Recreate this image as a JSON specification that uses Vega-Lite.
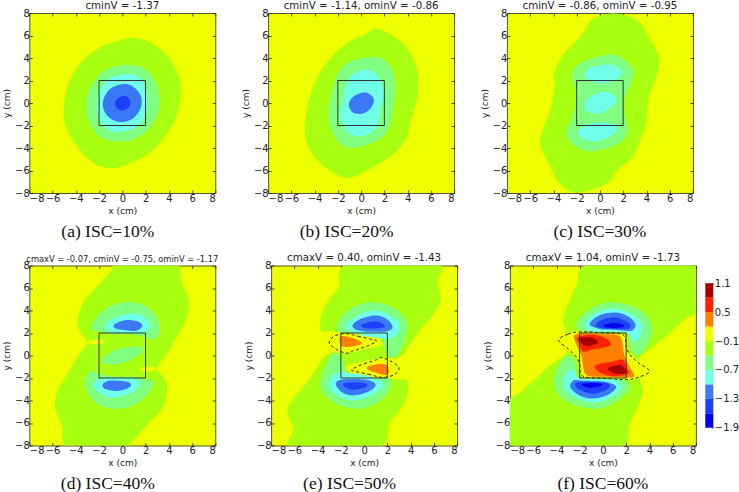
{"$schema":"https://vega.github.io/schema/vega-lite/v6.json","background":"white","padding":{"left":1.3,"top":0,"right":0,"bottom":0},"spacing":11.5,
"config":{"view":{"fill":"#eeff00","stroke":"#555530","strokeWidth":1},"font":"DejaVu Sans","axis":{"grid":false,"domain":false,"tickSize":-3,"tickColor":"#222","tickWidth":0.8,"labelFontSize":10,"labelColor":"#222","labelPadding":3,"titleFontSize":9,"titleFontWeight":"normal","titleColor":"#222","titlePadding":3,"format":"d","labelExpr":"replace(datum.label,'-','−')","labelFont":"DejaVu Sans","zindex":1},"title":{"fontSize":10.3,"fontWeight":"normal","color":"#222","offset":-3,"font":"DejaVu Sans"}},
"datasets":{
"a":[
{"g":1,"b":"-0.25","x":1,"y":5.8},{"g":1,"b":"-0.25","x":2.6,"y":5.3},{"g":1,"b":"-0.25","x":4,"y":4},{"g":1,"b":"-0.25","x":4.85,"y":2.4},{"g":1,"b":"-0.25","x":5.05,"y":1},{"g":1,"b":"-0.25","x":4.8,"y":-0.7},{"g":1,"b":"-0.25","x":4,"y":-2.5},{"g":1,"b":"-0.25","x":2.5,"y":-4.3},{"g":1,"b":"-0.25","x":1,"y":-5.2},{"g":1,"b":"-0.25","x":-0.8,"y":-5.8},{"g":1,"b":"-0.25","x":-2.5,"y":-5.3},{"g":1,"b":"-0.25","x":-4,"y":-3.7},{"g":1,"b":"-0.25","x":-4.95,"y":-1.8},{"g":1,"b":"-0.25","x":-5,"y":0},{"g":1,"b":"-0.25","x":-4.6,"y":1.8},{"g":1,"b":"-0.25","x":-3.6,"y":3.6},{"g":1,"b":"-0.25","x":-2,"y":4.9},{"g":1,"b":"-0.25","x":-0.5,"y":5.5},
{"g":2,"b":"-0.55","x":0.5,"y":3.4},{"g":2,"b":"-0.55","x":1.8,"y":3.1},{"g":2,"b":"-0.55","x":2.8,"y":2},{"g":2,"b":"-0.55","x":3.2,"y":0.5},{"g":2,"b":"-0.55","x":3,"y":-1},{"g":2,"b":"-0.55","x":2,"y":-2.6},{"g":2,"b":"-0.55","x":0.7,"y":-3.3},{"g":2,"b":"-0.55","x":-0.6,"y":-3.4},{"g":2,"b":"-0.55","x":-1.9,"y":-3},{"g":2,"b":"-0.55","x":-2.8,"y":-1.8},{"g":2,"b":"-0.55","x":-3.1,"y":-0.5},{"g":2,"b":"-0.55","x":-2.9,"y":1},{"g":2,"b":"-0.55","x":-2,"y":2.5},{"g":2,"b":"-0.55","x":-0.8,"y":3.2},
{"g":3,"b":"-0.85","x":0.2,"y":2.55},{"g":3,"b":"-0.85","x":1.3,"y":2.4},{"g":3,"b":"-0.85","x":2,"y":1.4},{"g":3,"b":"-0.85","x":2.2,"y":0.1},{"g":3,"b":"-0.85","x":1.9,"y":-1.2},{"g":3,"b":"-0.85","x":1.1,"y":-2.2},{"g":3,"b":"-0.85","x":-0.3,"y":-2.55},{"g":3,"b":"-0.85","x":-1.3,"y":-2.3},{"g":3,"b":"-0.85","x":-2,"y":-1.4},{"g":3,"b":"-0.85","x":-2.2,"y":-0.1},{"g":3,"b":"-0.85","x":-1.9,"y":1.2},{"g":3,"b":"-0.85","x":-1.1,"y":2.2},
{"g":4,"b":"-1.15","x":0.1,"y":1.7},{"g":4,"b":"-1.15","x":1,"y":1.4},{"g":4,"b":"-1.15","x":1.6,"y":0.6},{"g":4,"b":"-1.15","x":1.6,"y":-0.4},{"g":4,"b":"-1.15","x":1,"y":-1.3},{"g":4,"b":"-1.15","x":0,"y":-1.7},{"g":4,"b":"-1.15","x":-1,"y":-1.4},{"g":4,"b":"-1.15","x":-1.6,"y":-0.6},{"g":4,"b":"-1.15","x":-1.6,"y":0.4},{"g":4,"b":"-1.15","x":-1,"y":1.3},
{"g":5,"b":"-1.45","x":0.2,"y":0.65},{"g":5,"b":"-1.45","x":0.65,"y":0.3},{"g":5,"b":"-1.45","x":0.6,"y":-0.3},{"g":5,"b":"-1.45","x":0.1,"y":-0.65},{"g":5,"b":"-1.45","x":-0.4,"y":-0.5},{"g":5,"b":"-1.45","x":-0.65,"y":-0.05},{"g":5,"b":"-1.45","x":-0.35,"y":0.45}],
"b":[
{"g":1,"b":"-0.25","x":1.3,"y":6.6},{"g":1,"b":"-0.25","x":2.5,"y":6.1},{"g":1,"b":"-0.25","x":3.6,"y":5.3},{"g":1,"b":"-0.25","x":4.5,"y":3.9},{"g":1,"b":"-0.25","x":4.9,"y":2.3},{"g":1,"b":"-0.25","x":4.8,"y":0.3},{"g":1,"b":"-0.25","x":4.3,"y":-1.5},{"g":1,"b":"-0.25","x":3.8,"y":-3.3},{"g":1,"b":"-0.25","x":2.7,"y":-4.6},{"g":1,"b":"-0.25","x":1,"y":-5.7},{"g":1,"b":"-0.25","x":-1.1,"y":-6.65},{"g":1,"b":"-0.25","x":-2.7,"y":-6},{"g":1,"b":"-0.25","x":-4,"y":-4.8},{"g":1,"b":"-0.25","x":-4.8,"y":-3},{"g":1,"b":"-0.25","x":-4.7,"y":-0.8},{"g":1,"b":"-0.25","x":-4.2,"y":1.2},{"g":1,"b":"-0.25","x":-3.5,"y":2.8},{"g":1,"b":"-0.25","x":-2.4,"y":4.3},{"g":1,"b":"-0.25","x":-1.1,"y":5.4},{"g":1,"b":"-0.25","x":0.3,"y":6.1},
{"g":2,"b":"-0.55","x":0.9,"y":4.1},{"g":2,"b":"-0.55","x":2,"y":3.8},{"g":2,"b":"-0.55","x":2.75,"y":2.7},{"g":2,"b":"-0.55","x":2.9,"y":1},{"g":2,"b":"-0.55","x":2.7,"y":-0.7},{"g":2,"b":"-0.55","x":2.3,"y":-2.4},{"g":2,"b":"-0.55","x":1.3,"y":-3.4},{"g":2,"b":"-0.55","x":-0.85,"y":-4},{"g":2,"b":"-0.55","x":-2,"y":-3.4},{"g":2,"b":"-0.55","x":-2.7,"y":-2},{"g":2,"b":"-0.55","x":-2.8,"y":-0.8},{"g":2,"b":"-0.55","x":-2.5,"y":1},{"g":2,"b":"-0.55","x":-2,"y":2.6},{"g":2,"b":"-0.55","x":-1,"y":3.7},
{"g":3,"b":"-0.85","x":0.2,"y":2.95},{"g":3,"b":"-0.85","x":1.2,"y":2.7},{"g":3,"b":"-0.85","x":1.8,"y":1.7},{"g":3,"b":"-0.85","x":2,"y":0.6},{"g":3,"b":"-0.85","x":1.7,"y":-0.4},{"g":3,"b":"-0.85","x":1.5,"y":-1.5},{"g":3,"b":"-0.85","x":1,"y":-2.5},{"g":3,"b":"-0.85","x":-0.15,"y":-2.95},{"g":3,"b":"-0.85","x":-1.2,"y":-2.6},{"g":3,"b":"-0.85","x":-1.7,"y":-1.6},{"g":3,"b":"-0.85","x":-1.85,"y":-0.9},{"g":3,"b":"-0.85","x":-1.6,"y":0},{"g":3,"b":"-0.85","x":-1.4,"y":1.3},{"g":3,"b":"-0.85","x":-0.9,"y":2.4},
{"g":4,"b":"-1.15","x":0.3,"y":0.95},{"g":4,"b":"-1.15","x":0.95,"y":0.6},{"g":4,"b":"-1.15","x":1.1,"y":0.15},{"g":4,"b":"-1.15","x":0.8,"y":-0.5},{"g":4,"b":"-1.15","x":0.1,"y":-0.95},{"g":4,"b":"-1.15","x":-0.7,"y":-0.85},{"g":4,"b":"-1.15","x":-1.05,"y":-0.2},{"g":4,"b":"-1.15","x":-0.75,"y":0.5}],
"c":[
{"g":1,"b":"-0.25","x":2,"y":7.85},{"g":1,"b":"-0.25","x":3.4,"y":7.2},{"g":1,"b":"-0.25","x":4.2,"y":5.9},{"g":1,"b":"-0.25","x":5.1,"y":4},{"g":1,"b":"-0.25","x":4.9,"y":2.5},{"g":1,"b":"-0.25","x":4.2,"y":0.5},{"g":1,"b":"-0.25","x":4,"y":-1.5},{"g":1,"b":"-0.25","x":3.6,"y":-3},{"g":1,"b":"-0.25","x":2.8,"y":-4.8},{"g":1,"b":"-0.25","x":1.5,"y":-6},{"g":1,"b":"-0.25","x":0.5,"y":-7.2},{"g":1,"b":"-0.25","x":-2,"y":-7.95},{"g":1,"b":"-0.25","x":-3.5,"y":-7.1},{"g":1,"b":"-0.25","x":-4.2,"y":-5.8},{"g":1,"b":"-0.25","x":-5.1,"y":-3.8},{"g":1,"b":"-0.25","x":-4.9,"y":-2.4},{"g":1,"b":"-0.25","x":-4.2,"y":-0.4},{"g":1,"b":"-0.25","x":-3.9,"y":1.5},{"g":1,"b":"-0.25","x":-3.95,"y":2.5},{"g":1,"b":"-0.25","x":-3.3,"y":4.1},{"g":1,"b":"-0.25","x":-1.6,"y":6},{"g":1,"b":"-0.25","x":-0.8,"y":7.3},{"g":1,"b":"-0.25","x":0.5,"y":7.9},
{"g":2,"b":"-0.55","x":0.7,"y":4.3},{"g":2,"b":"-0.55","x":2,"y":3.9},{"g":2,"b":"-0.55","x":2.9,"y":2.9},{"g":2,"b":"-0.55","x":2.6,"y":1.6},{"g":2,"b":"-0.55","x":2.1,"y":0.4},{"g":2,"b":"-0.55","x":2.1,"y":-1},{"g":2,"b":"-0.55","x":2.4,"y":-2.5},{"g":2,"b":"-0.55","x":1.6,"y":-3.6},{"g":2,"b":"-0.55","x":-0.6,"y":-4.3},{"g":2,"b":"-0.55","x":-2,"y":-3.9},{"g":2,"b":"-0.55","x":-2.9,"y":-2.9},{"g":2,"b":"-0.55","x":-2.5,"y":-1.5},{"g":2,"b":"-0.55","x":-2.1,"y":-0.3},{"g":2,"b":"-0.55","x":-2,"y":0.8},{"g":2,"b":"-0.55","x":-2.4,"y":2.5},{"g":2,"b":"-0.55","x":-1.6,"y":3.6},
{"g":3,"b":"-0.85","x":0.3,"y":3.4},{"g":3,"b":"-0.85","x":1.3,"y":3.3},{"g":3,"b":"-0.85","x":1.9,"y":2.7},{"g":3,"b":"-0.85","x":1.3,"y":2},{"g":3,"b":"-0.85","x":0.2,"y":1.75},{"g":3,"b":"-0.85","x":-0.9,"y":2},{"g":3,"b":"-0.85","x":-1.4,"y":2.5},{"g":3,"b":"-0.85","x":-0.8,"y":3.15},
{"g":4,"b":"-0.85","x":0.5,"y":1},{"g":4,"b":"-0.85","x":1.3,"y":0.6},{"g":4,"b":"-0.85","x":1.3,"y":0},{"g":4,"b":"-0.85","x":0.5,"y":-0.7},{"g":4,"b":"-0.85","x":-0.4,"y":-0.95},{"g":4,"b":"-0.85","x":-1.2,"y":-0.6},{"g":4,"b":"-0.85","x":-1.25,"y":0.1},{"g":4,"b":"-0.85","x":-0.6,"y":0.7},
{"g":5,"b":"-0.85","x":0.3,"y":-1.75},{"g":5,"b":"-0.85","x":1.4,"y":-2},{"g":5,"b":"-0.85","x":1.4,"y":-2.6},{"g":5,"b":"-0.85","x":0.6,"y":-3.1},{"g":5,"b":"-0.85","x":-0.4,"y":-3.4},{"g":5,"b":"-0.85","x":-1.5,"y":-3.2},{"g":5,"b":"-0.85","x":-1.9,"y":-2.6},{"g":5,"b":"-0.85","x":-1.2,"y":-1.95}],
"d":[
{"g":1,"b":"-0.25","x":-0.8,"y":8.2},{"g":1,"b":"-0.25","x":1,"y":8.2},{"g":1,"b":"-0.25","x":4.6,"y":8.2},{"g":1,"b":"-0.25","x":5.1,"y":6.5},{"g":1,"b":"-0.25","x":5.75,"y":4.6},{"g":1,"b":"-0.25","x":5.4,"y":3},{"g":1,"b":"-0.25","x":4.6,"y":1.5},{"g":1,"b":"-0.25","x":3.9,"y":0.2},{"g":1,"b":"-0.25","x":3,"y":-1.1},{"g":1,"b":"-0.25","x":3.6,"y":-2},{"g":1,"b":"-0.25","x":3.85,"y":-3},{"g":1,"b":"-0.25","x":3.5,"y":-4.6},{"g":1,"b":"-0.25","x":2.3,"y":-6},{"g":1,"b":"-0.25","x":0.9,"y":-7.6},{"g":1,"b":"-0.25","x":0.4,"y":-8.2},{"g":1,"b":"-0.25","x":-1,"y":-8.2},{"g":1,"b":"-0.25","x":-4.7,"y":-8.2},{"g":1,"b":"-0.25","x":-5.2,"y":-6.3},{"g":1,"b":"-0.25","x":-5.8,"y":-4.5},{"g":1,"b":"-0.25","x":-5.5,"y":-3},{"g":1,"b":"-0.25","x":-4.7,"y":-1.6},{"g":1,"b":"-0.25","x":-3.9,"y":-0.2},{"g":1,"b":"-0.25","x":-3,"y":1.1},{"g":1,"b":"-0.25","x":-3.6,"y":2},{"g":1,"b":"-0.25","x":-3.85,"y":3},{"g":1,"b":"-0.25","x":-3.4,"y":4.6},{"g":1,"b":"-0.25","x":-2.3,"y":6},{"g":1,"b":"-0.25","x":-0.9,"y":7.6},
{"g":2,"b":"0.05","x":-3,"y":1.25},{"g":2,"b":"0.05","x":-2,"y":1.45},{"g":2,"b":"0.05","x":-1.45,"y":1.25},{"g":2,"b":"0.05","x":-2,"y":1},{"g":2,"b":"0.05","x":-2.6,"y":1},
{"g":3,"b":"0.05","x":3,"y":-1.25},{"g":3,"b":"0.05","x":2,"y":-1.45},{"g":3,"b":"0.05","x":1.45,"y":-1.25},{"g":3,"b":"0.05","x":2,"y":-1},{"g":3,"b":"0.05","x":2.6,"y":-1},
{"g":4,"b":"-0.55","x":0.5,"y":4.75},{"g":4,"b":"-0.55","x":2,"y":4.4},{"g":4,"b":"-0.55","x":3,"y":3.3},{"g":4,"b":"-0.55","x":3.2,"y":2.2},{"g":4,"b":"-0.55","x":2.7,"y":1.4},{"g":4,"b":"-0.55","x":1.8,"y":1.7},{"g":4,"b":"-0.55","x":0.5,"y":1.9},{"g":4,"b":"-0.55","x":-1,"y":1.9},{"g":4,"b":"-0.55","x":-2,"y":2.1},{"g":4,"b":"-0.55","x":-2.7,"y":2.4},{"g":4,"b":"-0.55","x":-2.2,"y":3.4},{"g":4,"b":"-0.55","x":-1,"y":4.4},
{"g":5,"b":"-0.55","x":-0.5,"y":-4.75},{"g":5,"b":"-0.55","x":-2,"y":-4.4},{"g":5,"b":"-0.55","x":-3,"y":-3.3},{"g":5,"b":"-0.55","x":-3.2,"y":-2.2},{"g":5,"b":"-0.55","x":-2.7,"y":-1.4},{"g":5,"b":"-0.55","x":-1.8,"y":-1.7},{"g":5,"b":"-0.55","x":-0.5,"y":-1.9},{"g":5,"b":"-0.55","x":1,"y":-1.9},{"g":5,"b":"-0.55","x":2,"y":-2.1},{"g":5,"b":"-0.55","x":2.7,"y":-2.4},{"g":5,"b":"-0.55","x":2.2,"y":-3.4},{"g":5,"b":"-0.55","x":1,"y":-4.4},
{"g":6,"b":"-0.55","x":1,"y":0.8},{"g":6,"b":"-0.55","x":1.7,"y":0.7},{"g":6,"b":"-0.55","x":1.6,"y":0.2},{"g":6,"b":"-0.55","x":0.5,"y":-0.5},{"g":6,"b":"-0.55","x":-0.7,"y":-0.8},{"g":6,"b":"-0.55","x":-1.6,"y":-0.7},{"g":6,"b":"-0.55","x":-1.7,"y":-0.3},{"g":6,"b":"-0.55","x":-0.6,"y":0.5},
{"g":7,"b":"-0.85","x":0.8,"y":3.75},{"g":7,"b":"-0.85","x":1.9,"y":3.4},{"g":7,"b":"-0.85","x":2.45,"y":2.6},{"g":7,"b":"-0.85","x":1.9,"y":2.05},{"g":7,"b":"-0.85","x":0.7,"y":1.95},{"g":7,"b":"-0.85","x":-0.6,"y":2},{"g":7,"b":"-0.85","x":-1.5,"y":2.4},{"g":7,"b":"-0.85","x":-1,"y":3.2},
{"g":8,"b":"-0.85","x":-0.8,"y":-3.75},{"g":8,"b":"-0.85","x":-1.9,"y":-3.4},{"g":8,"b":"-0.85","x":-2.5,"y":-2.6},{"g":8,"b":"-0.85","x":-1.9,"y":-2.05},{"g":8,"b":"-0.85","x":-0.7,"y":-1.95},{"g":8,"b":"-0.85","x":0.6,"y":-2},{"g":8,"b":"-0.85","x":1.5,"y":-2.4},{"g":8,"b":"-0.85","x":1,"y":-3.2},
{"g":9,"b":"-1.15","x":0.6,"y":3.15},{"g":9,"b":"-1.15","x":1.5,"y":2.95},{"g":9,"b":"-1.15","x":1.7,"y":2.55},{"g":9,"b":"-1.15","x":1.2,"y":2.2},{"g":9,"b":"-1.15","x":0.3,"y":2.25},{"g":9,"b":"-1.15","x":-0.6,"y":2.4},{"g":9,"b":"-1.15","x":-0.7,"y":2.75},{"g":9,"b":"-1.15","x":-0.1,"y":3.05},
{"g":10,"b":"-1.15","x":-0.6,"y":-3.15},{"g":10,"b":"-1.15","x":-1.5,"y":-2.95},{"g":10,"b":"-1.15","x":-1.7,"y":-2.6},{"g":10,"b":"-1.15","x":-1.2,"y":-2.25},{"g":10,"b":"-1.15","x":-0.3,"y":-2.25},{"g":10,"b":"-1.15","x":0.6,"y":-2.4},{"g":10,"b":"-1.15","x":0.7,"y":-2.75},{"g":10,"b":"-1.15","x":0.1,"y":-3.05}],
"e":[
{"g":1,"b":"-0.25","x":-1.3,"y":8.2},{"g":1,"b":"-0.25","x":6.2,"y":8.2},{"g":1,"b":"-0.25","x":6.3,"y":6.5},{"g":1,"b":"-0.25","x":6.6,"y":5},{"g":1,"b":"-0.25","x":6,"y":3.7},{"g":1,"b":"-0.25","x":5,"y":2.5},{"g":1,"b":"-0.25","x":4,"y":1},{"g":1,"b":"-0.25","x":3.4,"y":0.1},{"g":1,"b":"-0.25","x":2.8,"y":-0.4},{"g":1,"b":"-0.25","x":3,"y":-2},{"g":1,"b":"-0.25","x":3.7,"y":-2.2},{"g":1,"b":"-0.25","x":3.7,"y":-3.5},{"g":1,"b":"-0.25","x":3,"y":-5},{"g":1,"b":"-0.25","x":2.2,"y":-6},{"g":1,"b":"-0.25","x":1.1,"y":-8.2},{"g":1,"b":"-0.25","x":-6,"y":-8.2},{"g":1,"b":"-0.25","x":-6.1,"y":-6.5},{"g":1,"b":"-0.25","x":-6.6,"y":-4.9},{"g":1,"b":"-0.25","x":-6,"y":-3.7},{"g":1,"b":"-0.25","x":-5,"y":-2.5},{"g":1,"b":"-0.25","x":-4,"y":-1},{"g":1,"b":"-0.25","x":-3.4,"y":-0.1},{"g":1,"b":"-0.25","x":-2.8,"y":0.4},{"g":1,"b":"-0.25","x":-3,"y":2},{"g":1,"b":"-0.25","x":-3.7,"y":2.2},{"g":1,"b":"-0.25","x":-3.7,"y":3.5},{"g":1,"b":"-0.25","x":-3,"y":5},{"g":1,"b":"-0.25","x":-2.2,"y":6},
{"g":2,"b":"0.05","x":-3.6,"y":0.5},{"g":2,"b":"0.05","x":-2.8,"y":0.35},{"g":2,"b":"0.05","x":-2,"y":0.2},{"g":2,"b":"0.05","x":-1,"y":0.3},{"g":2,"b":"0.05","x":0.3,"y":0.6},{"g":2,"b":"0.05","x":1.4,"y":0.85},{"g":2,"b":"0.05","x":1.5,"y":1.3},{"g":2,"b":"0.05","x":0.6,"y":1.85},{"g":2,"b":"0.05","x":-0.6,"y":2},{"g":2,"b":"0.05","x":-2,"y":2.05},{"g":2,"b":"0.05","x":-3.2,"y":2.1},{"g":2,"b":"0.05","x":-3.8,"y":1.3},
{"g":3,"b":"0.05","x":3.6,"y":-0.5},{"g":3,"b":"0.05","x":2.8,"y":-0.35},{"g":3,"b":"0.05","x":2,"y":-0.2},{"g":3,"b":"0.05","x":1,"y":-0.3},{"g":3,"b":"0.05","x":-0.3,"y":-0.6},{"g":3,"b":"0.05","x":-1.4,"y":-0.85},{"g":3,"b":"0.05","x":-1.5,"y":-1.3},{"g":3,"b":"0.05","x":-0.6,"y":-1.85},{"g":3,"b":"0.05","x":0.6,"y":-2},{"g":3,"b":"0.05","x":2,"y":-2.05},{"g":3,"b":"0.05","x":3.2,"y":-2.1},{"g":3,"b":"0.05","x":3.8,"y":-1.3},
{"g":4,"b":"-0.55","x":0.7,"y":4.75},{"g":4,"b":"-0.55","x":2.2,"y":4.4},{"g":4,"b":"-0.55","x":3.3,"y":3.6},{"g":4,"b":"-0.55","x":3.75,"y":2.6},{"g":4,"b":"-0.55","x":3.4,"y":1.2},{"g":4,"b":"-0.55","x":2.9,"y":0.1},{"g":4,"b":"-0.55","x":2.4,"y":-0.2},{"g":4,"b":"-0.55","x":1.9,"y":0.3},{"g":4,"b":"-0.55","x":1.7,"y":1},{"g":4,"b":"-0.55","x":1.3,"y":1.65},{"g":4,"b":"-0.55","x":0.3,"y":1.85},{"g":4,"b":"-0.55","x":-1,"y":2},{"g":4,"b":"-0.55","x":-2.2,"y":2.1},{"g":4,"b":"-0.55","x":-2.2,"y":3},{"g":4,"b":"-0.55","x":-1.3,"y":4.1},{"g":4,"b":"-0.55","x":-0.2,"y":4.6},
{"g":5,"b":"-0.55","x":-0.7,"y":-4.75},{"g":5,"b":"-0.55","x":-2.2,"y":-4.4},{"g":5,"b":"-0.55","x":-3.3,"y":-3.6},{"g":5,"b":"-0.55","x":-3.75,"y":-2.6},{"g":5,"b":"-0.55","x":-3.4,"y":-1.2},{"g":5,"b":"-0.55","x":-2.9,"y":-0.1},{"g":5,"b":"-0.55","x":-2.4,"y":0.2},{"g":5,"b":"-0.55","x":-1.9,"y":-0.3},{"g":5,"b":"-0.55","x":-1.7,"y":-1},{"g":5,"b":"-0.55","x":-1.3,"y":-1.65},{"g":5,"b":"-0.55","x":-0.3,"y":-1.85},{"g":5,"b":"-0.55","x":1,"y":-2},{"g":5,"b":"-0.55","x":2.2,"y":-2.1},{"g":5,"b":"-0.55","x":2.2,"y":-3},{"g":5,"b":"-0.55","x":1.3,"y":-4.1},{"g":5,"b":"-0.55","x":0.2,"y":-4.6},
{"g":6,"b":"-0.85","x":1,"y":4},{"g":6,"b":"-0.85","x":2.2,"y":3.6},{"g":6,"b":"-0.85","x":3,"y":2.9},{"g":6,"b":"-0.85","x":2.9,"y":2},{"g":6,"b":"-0.85","x":2.2,"y":1.5},{"g":6,"b":"-0.85","x":1,"y":1.6},{"g":6,"b":"-0.85","x":-0.3,"y":1.8},{"g":6,"b":"-0.85","x":-1.5,"y":2.3},{"g":6,"b":"-0.85","x":-1.5,"y":2.9},{"g":6,"b":"-0.85","x":-0.3,"y":3.7},
{"g":7,"b":"-0.85","x":-1,"y":-4},{"g":7,"b":"-0.85","x":-2.2,"y":-3.6},{"g":7,"b":"-0.85","x":-3,"y":-2.9},{"g":7,"b":"-0.85","x":-2.9,"y":-2},{"g":7,"b":"-0.85","x":-2.2,"y":-1.5},{"g":7,"b":"-0.85","x":-1,"y":-1.6},{"g":7,"b":"-0.85","x":0.3,"y":-1.8},{"g":7,"b":"-0.85","x":1.5,"y":-2.3},{"g":7,"b":"-0.85","x":1.5,"y":-2.9},{"g":7,"b":"-0.85","x":0.3,"y":-3.7},
{"g":8,"b":"-1.15","x":1,"y":3.55},{"g":8,"b":"-1.15","x":2,"y":3.2},{"g":8,"b":"-1.15","x":2.45,"y":2.5},{"g":8,"b":"-1.15","x":2,"y":2.15},{"g":8,"b":"-1.15","x":0.9,"y":2.1},{"g":8,"b":"-1.15","x":-0.4,"y":2.2},{"g":8,"b":"-1.15","x":-1,"y":2.6},{"g":8,"b":"-1.15","x":-0.4,"y":3.2},
{"g":9,"b":"-1.15","x":-1,"y":-3.55},{"g":9,"b":"-1.15","x":-2,"y":-3.2},{"g":9,"b":"-1.15","x":-2.45,"y":-2.5},{"g":9,"b":"-1.15","x":-2,"y":-2.15},{"g":9,"b":"-1.15","x":-0.9,"y":-2.1},{"g":9,"b":"-1.15","x":0.4,"y":-2.2},{"g":9,"b":"-1.15","x":1,"y":-2.6},{"g":9,"b":"-1.15","x":0.4,"y":-3.2},
{"g":10,"b":"-1.45","x":0.9,"y":3.05},{"g":10,"b":"-1.45","x":1.6,"y":2.85},{"g":10,"b":"-1.45","x":1.75,"y":2.5},{"g":10,"b":"-1.45","x":1,"y":2.4},{"g":10,"b":"-1.45","x":0,"y":2.45},{"g":10,"b":"-1.45","x":-0.2,"y":2.75},
{"g":11,"b":"-1.45","x":-0.9,"y":-3.05},{"g":11,"b":"-1.45","x":-1.6,"y":-2.85},{"g":11,"b":"-1.45","x":-1.75,"y":-2.5},{"g":11,"b":"-1.45","x":-1,"y":-2.4},{"g":11,"b":"-1.45","x":0,"y":-2.45},{"g":11,"b":"-1.45","x":0.2,"y":-2.75},
{"g":12,"b":"0.35","x":-2,"y":1.7},{"g":12,"b":"0.35","x":-1.2,"y":1.6},{"g":12,"b":"0.35","x":-0.3,"y":1.25},{"g":12,"b":"0.35","x":-0.3,"y":1},{"g":12,"b":"0.35","x":-1,"y":0.8},{"g":12,"b":"0.35","x":-1.9,"y":0.8},{"g":12,"b":"0.35","x":-2.1,"y":1.2},
{"g":13,"b":"0.35","x":2,"y":-1.7},{"g":13,"b":"0.35","x":1.2,"y":-1.6},{"g":13,"b":"0.35","x":0.3,"y":-1.25},{"g":13,"b":"0.35","x":0.3,"y":-1},{"g":13,"b":"0.35","x":1,"y":-0.8},{"g":13,"b":"0.35","x":1.9,"y":-0.8},{"g":13,"b":"0.35","x":2.1,"y":-1.2}],
"eDash":[
{"g":1,"x":-1.6,"y":1.95},{"g":1,"x":-0.5,"y":1.7},{"g":1,"x":0.8,"y":1.4},{"g":1,"x":1.05,"y":1.25},{"g":1,"x":0.3,"y":0.85},{"g":1,"x":-1,"y":0.4},{"g":1,"x":-1.5,"y":0.2},{"g":1,"x":-2.3,"y":0.5},{"g":1,"x":-3,"y":1.1},{"g":1,"x":-2.6,"y":1.7},
{"g":2,"x":1.6,"y":-1.95},{"g":2,"x":0.5,"y":-1.7},{"g":2,"x":-0.8,"y":-1.4},{"g":2,"x":-1.05,"y":-1.25},{"g":2,"x":-0.3,"y":-0.85},{"g":2,"x":1,"y":-0.4},{"g":2,"x":1.5,"y":-0.2},{"g":2,"x":2.3,"y":-0.5},{"g":2,"x":3,"y":-1.1},{"g":2,"x":2.6,"y":-1.7}],
"f":[
{"g":1,"b":"-0.25","x":-0.9,"y":8.2},{"g":1,"b":"-0.25","x":8.2,"y":8.2},{"g":1,"b":"-0.25","x":8.2,"y":4.2},{"g":1,"b":"-0.25","x":7,"y":3.2},{"g":1,"b":"-0.25","x":5.1,"y":1.4},{"g":1,"b":"-0.25","x":4,"y":0.5},{"g":1,"b":"-0.25","x":3.1,"y":-0.3},{"g":1,"b":"-0.25","x":3.3,"y":-1.5},{"g":1,"b":"-0.25","x":3.2,"y":-2.3},{"g":1,"b":"-0.25","x":3.4,"y":-3.4},{"g":1,"b":"-0.25","x":2.3,"y":-6.1},{"g":1,"b":"-0.25","x":1.1,"y":-8.2},{"g":1,"b":"-0.25","x":-8.2,"y":-8.2},{"g":1,"b":"-0.25","x":-8.2,"y":-4.3},{"g":1,"b":"-0.25","x":-7,"y":-3.2},{"g":1,"b":"-0.25","x":-5.1,"y":-1.4},{"g":1,"b":"-0.25","x":-4,"y":-0.5},{"g":1,"b":"-0.25","x":-3.1,"y":0.3},{"g":1,"b":"-0.25","x":-3.3,"y":1.5},{"g":1,"b":"-0.25","x":-3.2,"y":2.3},{"g":1,"b":"-0.25","x":-3.4,"y":3.4},{"g":1,"b":"-0.25","x":-2.3,"y":6.1},
{"g":2,"b":"0.05","x":-3.3,"y":1.9},{"g":2,"b":"0.05","x":-2,"y":2.2},{"g":2,"b":"0.05","x":0,"y":2},{"g":2,"b":"0.05","x":1.6,"y":2},{"g":2,"b":"0.05","x":2,"y":1.6},{"g":2,"b":"0.05","x":2.2,"y":0.4},{"g":2,"b":"0.05","x":3.1,"y":-0.5},{"g":2,"b":"0.05","x":4,"y":-1.4},{"g":2,"b":"0.05","x":3,"y":-2},{"g":2,"b":"0.05","x":2,"y":-2.2},{"g":2,"b":"0.05","x":0,"y":-2},{"g":2,"b":"0.05","x":-1.6,"y":-2},{"g":2,"b":"0.05","x":-2,"y":-1.6},{"g":2,"b":"0.05","x":-2.2,"y":-0.4},{"g":2,"b":"0.05","x":-3.1,"y":0.5},{"g":2,"b":"0.05","x":-3.8,"y":1.35},
{"g":3,"b":"-0.55","x":0.7,"y":4.75},{"g":3,"b":"-0.55","x":2.5,"y":4.4},{"g":3,"b":"-0.55","x":3.7,"y":3.6},{"g":3,"b":"-0.55","x":4.2,"y":2.6},{"g":3,"b":"-0.55","x":4,"y":1.3},{"g":3,"b":"-0.55","x":3.3,"y":0.2},{"g":3,"b":"-0.55","x":2.7,"y":0.1},{"g":3,"b":"-0.55","x":2.3,"y":0.9},{"g":3,"b":"-0.55","x":2.1,"y":1.9},{"g":3,"b":"-0.55","x":0.5,"y":2.1},{"g":3,"b":"-0.55","x":-1.3,"y":2.1},{"g":3,"b":"-0.55","x":-2.2,"y":2.4},{"g":3,"b":"-0.55","x":-2.1,"y":3.2},{"g":3,"b":"-0.55","x":-1,"y":4.2},{"g":3,"b":"-0.55","x":-0.1,"y":4.6},
{"g":4,"b":"-0.55","x":-0.7,"y":-4.75},{"g":4,"b":"-0.55","x":-2.5,"y":-4.4},{"g":4,"b":"-0.55","x":-3.7,"y":-3.6},{"g":4,"b":"-0.55","x":-4.2,"y":-2.6},{"g":4,"b":"-0.55","x":-4,"y":-1.3},{"g":4,"b":"-0.55","x":-3.3,"y":-0.2},{"g":4,"b":"-0.55","x":-2.7,"y":-0.1},{"g":4,"b":"-0.55","x":-2.3,"y":-0.9},{"g":4,"b":"-0.55","x":-2.1,"y":-1.9},{"g":4,"b":"-0.55","x":-0.5,"y":-2.1},{"g":4,"b":"-0.55","x":1.3,"y":-2.1},{"g":4,"b":"-0.55","x":2.2,"y":-2.4},{"g":4,"b":"-0.55","x":2.1,"y":-3.2},{"g":4,"b":"-0.55","x":1,"y":-4.2},{"g":4,"b":"-0.55","x":0.1,"y":-4.6},
{"g":5,"b":"-0.85","x":0.85,"y":4.2},{"g":5,"b":"-0.85","x":2.3,"y":3.8},{"g":5,"b":"-0.85","x":3.2,"y":3.1},{"g":5,"b":"-0.85","x":3.4,"y":2.2},{"g":5,"b":"-0.85","x":2.9,"y":1.3},{"g":5,"b":"-0.85","x":2.5,"y":1.3},{"g":5,"b":"-0.85","x":2.1,"y":2},{"g":5,"b":"-0.85","x":0.5,"y":2.1},{"g":5,"b":"-0.85","x":-1,"y":2.15},{"g":5,"b":"-0.85","x":-1.6,"y":2.6},{"g":5,"b":"-0.85","x":-1.3,"y":3.3},{"g":5,"b":"-0.85","x":-0.3,"y":3.95},
{"g":6,"b":"-0.85","x":-0.85,"y":-4.2},{"g":6,"b":"-0.85","x":-2.3,"y":-3.8},{"g":6,"b":"-0.85","x":-3.2,"y":-3.1},{"g":6,"b":"-0.85","x":-3.4,"y":-2.2},{"g":6,"b":"-0.85","x":-2.9,"y":-1.3},{"g":6,"b":"-0.85","x":-2.5,"y":-1.3},{"g":6,"b":"-0.85","x":-2.1,"y":-2},{"g":6,"b":"-0.85","x":-0.5,"y":-2.1},{"g":6,"b":"-0.85","x":1,"y":-2.15},{"g":6,"b":"-0.85","x":1.6,"y":-2.6},{"g":6,"b":"-0.85","x":1.3,"y":-3.3},{"g":6,"b":"-0.85","x":0.3,"y":-3.95},
{"g":7,"b":"-1.15","x":0.3,"y":3.75},{"g":7,"b":"-1.15","x":1.3,"y":3.8},{"g":7,"b":"-1.15","x":2.2,"y":3.45},{"g":7,"b":"-1.15","x":2.8,"y":2.8},{"g":7,"b":"-1.15","x":2.5,"y":2.2},{"g":7,"b":"-1.15","x":1.5,"y":2.25},{"g":7,"b":"-1.15","x":0.2,"y":2.3},{"g":7,"b":"-1.15","x":-0.6,"y":2.45},{"g":7,"b":"-1.15","x":-1.15,"y":2.8},{"g":7,"b":"-1.15","x":-0.6,"y":3.4},
{"g":8,"b":"-1.15","x":-0.3,"y":-3.75},{"g":8,"b":"-1.15","x":-1.3,"y":-3.8},{"g":8,"b":"-1.15","x":-2.2,"y":-3.45},{"g":8,"b":"-1.15","x":-2.8,"y":-2.8},{"g":8,"b":"-1.15","x":-2.5,"y":-2.2},{"g":8,"b":"-1.15","x":-1.5,"y":-2.25},{"g":8,"b":"-1.15","x":-0.2,"y":-2.3},{"g":8,"b":"-1.15","x":0.6,"y":-2.45},{"g":8,"b":"-1.15","x":1.15,"y":-2.8},{"g":8,"b":"-1.15","x":0.6,"y":-3.4},
{"g":9,"b":"-1.45","x":1,"y":3.4},{"g":9,"b":"-1.45","x":2,"y":3.05},{"g":9,"b":"-1.45","x":2.4,"y":2.6},{"g":9,"b":"-1.45","x":2.1,"y":2.35},{"g":9,"b":"-1.45","x":1.2,"y":2.35},{"g":9,"b":"-1.45","x":0.2,"y":2.4},{"g":9,"b":"-1.45","x":-0.4,"y":2.5},{"g":9,"b":"-1.45","x":-0.6,"y":2.75},{"g":9,"b":"-1.45","x":-0.1,"y":3.15},
{"g":10,"b":"-1.45","x":-1,"y":-3.4},{"g":10,"b":"-1.45","x":-2,"y":-3.05},{"g":10,"b":"-1.45","x":-2.4,"y":-2.6},{"g":10,"b":"-1.45","x":-2.1,"y":-2.35},{"g":10,"b":"-1.45","x":-1.2,"y":-2.35},{"g":10,"b":"-1.45","x":-0.2,"y":-2.4},{"g":10,"b":"-1.45","x":0.4,"y":-2.5},{"g":10,"b":"-1.45","x":0.6,"y":-2.75},{"g":10,"b":"-1.45","x":0.1,"y":-3.15},
{"g":11,"b":"-1.75","x":1,"y":2.88},{"g":11,"b":"-1.75","x":1.6,"y":2.75},{"g":11,"b":"-1.75","x":1.85,"y":2.55},{"g":11,"b":"-1.75","x":1,"y":2.45},{"g":11,"b":"-1.75","x":0.2,"y":2.5},{"g":11,"b":"-1.75","x":0.12,"y":2.7},
{"g":12,"b":"-1.75","x":-1,"y":-2.88},{"g":12,"b":"-1.75","x":-1.6,"y":-2.75},{"g":12,"b":"-1.75","x":-1.85,"y":-2.55},{"g":12,"b":"-1.75","x":-1,"y":-2.45},{"g":12,"b":"-1.75","x":-0.2,"y":-2.5},{"g":12,"b":"-1.75","x":-0.12,"y":-2.7},
{"g":13,"b":"0.35","x":-2.5,"y":1.7},{"g":13,"b":"0.35","x":-2,"y":1.95},{"g":13,"b":"0.35","x":-0.5,"y":1.9},{"g":13,"b":"0.35","x":1.3,"y":1.8},{"g":13,"b":"0.35","x":1.7,"y":1},{"g":13,"b":"0.35","x":1.85,"y":0},{"g":13,"b":"0.35","x":2.3,"y":-1},{"g":13,"b":"0.35","x":2.7,"y":-1.8},{"g":13,"b":"0.35","x":2.2,"y":-1.95},{"g":13,"b":"0.35","x":0.5,"y":-1.9},{"g":13,"b":"0.35","x":-1.3,"y":-1.8},{"g":13,"b":"0.35","x":-1.7,"y":-1},{"g":13,"b":"0.35","x":-1.85,"y":0},{"g":13,"b":"0.35","x":-2.3,"y":1},
{"g":14,"b":"0.65","x":-2.2,"y":1.6},{"g":14,"b":"0.65","x":-1,"y":1.85},{"g":14,"b":"0.65","x":0.2,"y":1.55},{"g":14,"b":"0.65","x":0.7,"y":1},{"g":14,"b":"0.65","x":0.1,"y":0.7},{"g":14,"b":"0.65","x":-0.8,"y":0.55},{"g":14,"b":"0.65","x":-1.7,"y":0.35},{"g":14,"b":"0.65","x":-2,"y":1},
{"g":15,"b":"0.65","x":2.2,"y":-1.6},{"g":15,"b":"0.65","x":1,"y":-1.85},{"g":15,"b":"0.65","x":-0.2,"y":-1.55},{"g":15,"b":"0.65","x":-0.7,"y":-1},{"g":15,"b":"0.65","x":-0.1,"y":-0.7},{"g":15,"b":"0.65","x":0.8,"y":-0.55},{"g":15,"b":"0.65","x":1.7,"y":-0.35},{"g":15,"b":"0.65","x":2,"y":-1},
{"g":16,"b":"0.95","x":-1.9,"y":1.6},{"g":16,"b":"0.95","x":-1,"y":1.6},{"g":16,"b":"0.95","x":-0.4,"y":1.2},{"g":16,"b":"0.95","x":-0.8,"y":0.95},{"g":16,"b":"0.95","x":-1.5,"y":0.85},{"g":16,"b":"0.95","x":-1.9,"y":1.2},
{"g":17,"b":"0.95","x":1.9,"y":-1.6},{"g":17,"b":"0.95","x":1,"y":-1.6},{"g":17,"b":"0.95","x":0.4,"y":-1.2},{"g":17,"b":"0.95","x":0.8,"y":-0.95},{"g":17,"b":"0.95","x":1.5,"y":-0.85},{"g":17,"b":"0.95","x":1.9,"y":-1.2}],
"fDash":[
{"g":1,"x":-3.8,"y":1.35},{"g":1,"x":-3,"y":1.9},{"g":1,"x":-2,"y":2.1},{"g":1,"x":-0.5,"y":2.05},{"g":1,"x":1.7,"y":1.85},{"g":1,"x":2,"y":0.8},{"g":1,"x":2.3,"y":0.1},{"g":1,"x":3,"y":-0.6},{"g":1,"x":4,"y":-1.4},{"g":1,"x":3,"y":-1.95},{"g":1,"x":2,"y":-2.15},{"g":1,"x":0.5,"y":-2.05},{"g":1,"x":-1.7,"y":-1.85},{"g":1,"x":-2,"y":-0.8},{"g":1,"x":-2.3,"y":-0.1},{"g":1,"x":-3,"y":0.6}],
"box":[{"x":-2,"x2":2,"y":-2,"y2":2}],
"bands":[{"lo":-1.9,"hi":-1.6,"b":"-1.75"},{"lo":-1.6,"hi":-1.3,"b":"-1.45"},{"lo":-1.3,"hi":-1,"b":"-1.15"},{"lo":-1,"hi":-0.7,"b":"-0.85"},{"lo":-0.7,"hi":-0.4,"b":"-0.55"},{"lo":-0.4,"hi":-0.1,"b":"-0.25"},{"lo":-0.1,"hi":0.2,"b":"0.05"},{"lo":0.2,"hi":0.5,"b":"0.35"},{"lo":0.5,"hi":0.8,"b":"0.65"},{"lo":0.8,"hi":1.1,"b":"0.95"}]
},
"vconcat":[
{"hconcat":[
{"width":186,"height":180,"title":"cminV = -1.37","resolve":{"axis":{"x":"independent","y":"independent"}},"layer":[
{"data":{"name":"a"},"transform":[{"window":[{"op":"row_number","as":"i"}]}],"mark":{"type":"line","interpolate":"cardinal-closed","filled":true,"strokeWidth":0,"clip":true},"encoding":{"x":{"field":"x","type":"quantitative","scale":{"domain":[-8,8],"nice":false},"axis":{"title":"x (cm)","values":[-8,-6,-4,-2,0,2,4,6,8]}},"y":{"field":"y","type":"quantitative","scale":{"domain":[-8,8],"nice":false},"axis":{"title":"y (cm)","values":[-8,-6,-4,-2,0,2,4,6,8]}},"detail":{"field":"g"},"order":{"field":"i","type":"quantitative"},"fill":{"field":"b","type":"nominal","legend":null,"scale":{"domain":["-1.75","-1.45","-1.15","-0.85","-0.55","-0.25","0.05","0.35","0.65","0.95"],"range":["#0000f0","#1c40fa","#3a78f5","#70ffe8","#80ff80","#a8ff10","#eeff00","#ff8000","#ff2000","#a80000"]}}}},
{"data":{"name":"box"},"mark":{"type":"rect","fill":null,"stroke":"#333","strokeWidth":1},"encoding":{"x":{"field":"x","type":"quantitative","axis":{"orient":"top","labels":false,"title":null,"values":[-8,-6,-4,-2,0,2,4,6,8]}},"x2":{"field":"x2"},"y":{"field":"y","type":"quantitative","axis":{"orient":"right","labels":false,"title":null,"values":[-8,-6,-4,-2,0,2,4,6,8]}},"y2":{"field":"y2"}}},
{"data":{"values":[{"x":-1.25,"y":-11.44,"t":"(a) ISC=10%"}]},"mark":{"type":"text","font":"Liberation Serif","fontSize":17.5,"color":"#111","baseline":"middle"},"encoding":{"x":{"field":"x","type":"quantitative","axis":null},"y":{"field":"y","type":"quantitative","axis":null},"text":{"field":"t"}}}]},
{"width":186,"height":180,"title":"cminV = -1.14, ominV = -0.86","resolve":{"axis":{"x":"independent","y":"independent"}},"layer":[
{"data":{"name":"b"},"transform":[{"window":[{"op":"row_number","as":"i"}]}],"mark":{"type":"line","interpolate":"cardinal-closed","filled":true,"strokeWidth":0,"clip":true},"encoding":{"x":{"field":"x","type":"quantitative","scale":{"domain":[-8,8],"nice":false},"axis":{"title":"x (cm)","values":[-8,-6,-4,-2,0,2,4,6,8]}},"y":{"field":"y","type":"quantitative","scale":{"domain":[-8,8],"nice":false},"axis":{"title":"y (cm)","values":[-8,-6,-4,-2,0,2,4,6,8]}},"detail":{"field":"g"},"order":{"field":"i","type":"quantitative"},"fill":{"field":"b","type":"nominal","legend":null,"scale":{"domain":["-1.75","-1.45","-1.15","-0.85","-0.55","-0.25","0.05","0.35","0.65","0.95"],"range":["#0000f0","#1c40fa","#3a78f5","#70ffe8","#80ff80","#a8ff10","#eeff00","#ff8000","#ff2000","#a80000"]}}}},
{"data":{"name":"box"},"mark":{"type":"rect","fill":null,"stroke":"#333","strokeWidth":1},"encoding":{"x":{"field":"x","type":"quantitative","axis":{"orient":"top","labels":false,"title":null,"values":[-8,-6,-4,-2,0,2,4,6,8]}},"x2":{"field":"x2"},"y":{"field":"y","type":"quantitative","axis":{"orient":"right","labels":false,"title":null,"values":[-8,-6,-4,-2,0,2,4,6,8]}},"y2":{"field":"y2"}}},
{"data":{"values":[{"x":-1.25,"y":-11.44,"t":"(b) ISC=20%"}]},"mark":{"type":"text","font":"Liberation Serif","fontSize":17.5,"color":"#111","baseline":"middle"},"encoding":{"x":{"field":"x","type":"quantitative","axis":null},"y":{"field":"y","type":"quantitative","axis":null},"text":{"field":"t"}}}]},
{"width":186,"height":180,"title":"cminV = -0.86, ominV = -0.95","resolve":{"axis":{"x":"independent","y":"independent"}},"layer":[
{"data":{"name":"c"},"transform":[{"window":[{"op":"row_number","as":"i"}]}],"mark":{"type":"line","interpolate":"cardinal-closed","filled":true,"strokeWidth":0,"clip":true},"encoding":{"x":{"field":"x","type":"quantitative","scale":{"domain":[-8,8],"nice":false},"axis":{"title":"x (cm)","values":[-8,-6,-4,-2,0,2,4,6,8]}},"y":{"field":"y","type":"quantitative","scale":{"domain":[-8,8],"nice":false},"axis":{"title":"y (cm)","values":[-8,-6,-4,-2,0,2,4,6,8]}},"detail":{"field":"g"},"order":{"field":"i","type":"quantitative"},"fill":{"field":"b","type":"nominal","legend":null,"scale":{"domain":["-1.75","-1.45","-1.15","-0.85","-0.55","-0.25","0.05","0.35","0.65","0.95"],"range":["#0000f0","#1c40fa","#3a78f5","#70ffe8","#80ff80","#a8ff10","#eeff00","#ff8000","#ff2000","#a80000"]}}}},
{"data":{"name":"box"},"mark":{"type":"rect","fill":null,"stroke":"#333","strokeWidth":1},"encoding":{"x":{"field":"x","type":"quantitative","axis":{"orient":"top","labels":false,"title":null,"values":[-8,-6,-4,-2,0,2,4,6,8]}},"x2":{"field":"x2"},"y":{"field":"y","type":"quantitative","axis":{"orient":"right","labels":false,"title":null,"values":[-8,-6,-4,-2,0,2,4,6,8]}},"y2":{"field":"y2"}}},
{"data":{"values":[{"x":0,"y":-11.44,"t":"(c) ISC=30%"}]},"mark":{"type":"text","font":"Liberation Serif","fontSize":17.5,"color":"#111","baseline":"middle"},"encoding":{"x":{"field":"x","type":"quantitative","axis":null},"y":{"field":"y","type":"quantitative","axis":null},"text":{"field":"t"}}}]}
],"spacing":23.8},
{"hconcat":[
{"hconcat":[
{"width":186,"height":180,"title":{"text":"cmaxV = -0.07, cminV = -0.75, ominV = -1.17","fontSize":8.3},"resolve":{"axis":{"x":"independent","y":"independent"}},"layer":[
{"data":{"name":"d"},"transform":[{"window":[{"op":"row_number","as":"i"}]}],"mark":{"type":"line","interpolate":"cardinal-closed","filled":true,"strokeWidth":0,"clip":true},"encoding":{"x":{"field":"x","type":"quantitative","scale":{"domain":[-8,8],"nice":false},"axis":{"title":"x (cm)","values":[-8,-6,-4,-2,0,2,4,6,8]}},"y":{"field":"y","type":"quantitative","scale":{"domain":[-8,8],"nice":false},"axis":{"title":"y (cm)","values":[-8,-6,-4,-2,0,2,4,6,8]}},"detail":{"field":"g"},"order":{"field":"i","type":"quantitative"},"fill":{"field":"b","type":"nominal","legend":null,"scale":{"domain":["-1.75","-1.45","-1.15","-0.85","-0.55","-0.25","0.05","0.35","0.65","0.95"],"range":["#0000f0","#1c40fa","#3a78f5","#70ffe8","#80ff80","#a8ff10","#eeff00","#ff8000","#ff2000","#a80000"]}}}},
{"data":{"name":"box"},"mark":{"type":"rect","fill":null,"stroke":"#333","strokeWidth":1},"encoding":{"x":{"field":"x","type":"quantitative","axis":{"orient":"top","labels":false,"title":null,"values":[-8,-6,-4,-2,0,2,4,6,8]}},"x2":{"field":"x2"},"y":{"field":"y","type":"quantitative","axis":{"orient":"right","labels":false,"title":null,"values":[-8,-6,-4,-2,0,2,4,6,8]}},"y2":{"field":"y2"}}},
{"data":{"values":[{"x":-1.25,"y":-11.44,"t":"(d) ISC=40%"}]},"mark":{"type":"text","font":"Liberation Serif","fontSize":17.5,"color":"#111","baseline":"middle"},"encoding":{"x":{"field":"x","type":"quantitative","axis":null},"y":{"field":"y","type":"quantitative","axis":null},"text":{"field":"t"}}}]},
{"width":186,"height":180,"title":"cmaxV = 0.40, ominV = -1.43","resolve":{"axis":{"x":"independent","y":"independent"}},"layer":[
{"data":{"name":"e"},"transform":[{"window":[{"op":"row_number","as":"i"}]}],"mark":{"type":"line","interpolate":"cardinal-closed","filled":true,"strokeWidth":0,"clip":true},"encoding":{"x":{"field":"x","type":"quantitative","scale":{"domain":[-8,8],"nice":false},"axis":{"title":"x (cm)","values":[-8,-6,-4,-2,0,2,4,6,8]}},"y":{"field":"y","type":"quantitative","scale":{"domain":[-8,8],"nice":false},"axis":{"title":"y (cm)","values":[-8,-6,-4,-2,0,2,4,6,8]}},"detail":{"field":"g"},"order":{"field":"i","type":"quantitative"},"fill":{"field":"b","type":"nominal","legend":null,"scale":{"domain":["-1.75","-1.45","-1.15","-0.85","-0.55","-0.25","0.05","0.35","0.65","0.95"],"range":["#0000f0","#1c40fa","#3a78f5","#70ffe8","#80ff80","#a8ff10","#eeff00","#ff8000","#ff2000","#a80000"]}}}},
{"data":{"name":"eDash"},"transform":[{"window":[{"op":"row_number","as":"i"}]}],"mark":{"type":"line","interpolate":"cardinal-closed","stroke":"#111","strokeWidth":0.9,"strokeDash":[3,2.5]},"encoding":{"x":{"field":"x","type":"quantitative","axis":null},"y":{"field":"y","type":"quantitative","axis":null},"detail":{"field":"g"},"order":{"field":"i","type":"quantitative"}}},
{"data":{"name":"box"},"mark":{"type":"rect","fill":null,"stroke":"#333","strokeWidth":1},"encoding":{"x":{"field":"x","type":"quantitative","axis":{"orient":"top","labels":false,"title":null,"values":[-8,-6,-4,-2,0,2,4,6,8]}},"x2":{"field":"x2"},"y":{"field":"y","type":"quantitative","axis":{"orient":"right","labels":false,"title":null,"values":[-8,-6,-4,-2,0,2,4,6,8]}},"y2":{"field":"y2"}}},
{"data":{"values":[{"x":-1.25,"y":-11.44,"t":"(e) ISC=50%"}]},"mark":{"type":"text","font":"Liberation Serif","fontSize":17.5,"color":"#111","baseline":"middle"},"encoding":{"x":{"field":"x","type":"quantitative","axis":null},"y":{"field":"y","type":"quantitative","axis":null},"text":{"field":"t"}}}]},
{"width":186,"height":180,"title":"cmaxV = 1.04, ominV = -1.73","resolve":{"axis":{"x":"independent","y":"independent"}},"layer":[
{"data":{"name":"f"},"transform":[{"window":[{"op":"row_number","as":"i"}]}],"mark":{"type":"line","interpolate":"cardinal-closed","filled":true,"strokeWidth":0,"clip":true},"encoding":{"x":{"field":"x","type":"quantitative","scale":{"domain":[-8,8],"nice":false},"axis":{"title":"x (cm)","values":[-8,-6,-4,-2,0,2,4,6,8]}},"y":{"field":"y","type":"quantitative","scale":{"domain":[-8,8],"nice":false},"axis":{"title":"y (cm)","values":[-8,-6,-4,-2,0,2,4,6,8]}},"detail":{"field":"g"},"order":{"field":"i","type":"quantitative"},"fill":{"field":"b","type":"nominal","legend":null,"scale":{"domain":["-1.75","-1.45","-1.15","-0.85","-0.55","-0.25","0.05","0.35","0.65","0.95"],"range":["#0000f0","#1c40fa","#3a78f5","#70ffe8","#80ff80","#a8ff10","#eeff00","#ff8000","#ff2000","#a80000"]}}}},
{"data":{"name":"fDash"},"transform":[{"window":[{"op":"row_number","as":"i"}]}],"mark":{"type":"line","interpolate":"cardinal-closed","stroke":"#111","strokeWidth":0.9,"strokeDash":[3,2.5]},"encoding":{"x":{"field":"x","type":"quantitative","axis":null},"y":{"field":"y","type":"quantitative","axis":null},"detail":{"field":"g"},"order":{"field":"i","type":"quantitative"}}},
{"data":{"name":"box"},"mark":{"type":"rect","fill":null,"stroke":"#333","strokeWidth":1},"encoding":{"x":{"field":"x","type":"quantitative","axis":{"orient":"top","labels":false,"title":null,"values":[-8,-6,-4,-2,0,2,4,6,8]}},"x2":{"field":"x2"},"y":{"field":"y","type":"quantitative","axis":{"orient":"right","labels":false,"title":null,"values":[-8,-6,-4,-2,0,2,4,6,8]}},"y2":{"field":"y2"}}},
{"data":{"values":[{"x":0,"y":-11.44,"t":"(f) ISC=60%"}]},"mark":{"type":"text","font":"Liberation Serif","fontSize":17.5,"color":"#111","baseline":"middle"},"encoding":{"x":{"field":"x","type":"quantitative","axis":null},"y":{"field":"y","type":"quantitative","axis":null},"text":{"field":"t"}}}]}
],"spacing":23.8},
{"width":8,"height":180,"view":{"fill":null,"stroke":null},"data":{"name":"bands"},"mark":{"type":"rect"},"encoding":{"y":{"field":"lo","type":"quantitative","scale":{"domain":[-2.268,1.468],"nice":false},"axis":{"orient":"right","title":null,"values":[-1.9,-1.3,-0.7,-0.1,0.5,1.1],"format":".1f","labelFontSize":10,"labelPadding":3,"tickSize":-2}},"y2":{"field":"hi"},"fill":{"field":"b","type":"nominal","legend":null,"scale":{"domain":["-1.75","-1.45","-1.15","-0.85","-0.55","-0.25","0.05","0.35","0.65","0.95"],"range":["#0000f0","#1c40fa","#3a78f5","#70ffe8","#80ff80","#a8ff10","#eeff00","#ff8000","#ff2000","#a80000"]}}}}
],"spacing":8}
]}
